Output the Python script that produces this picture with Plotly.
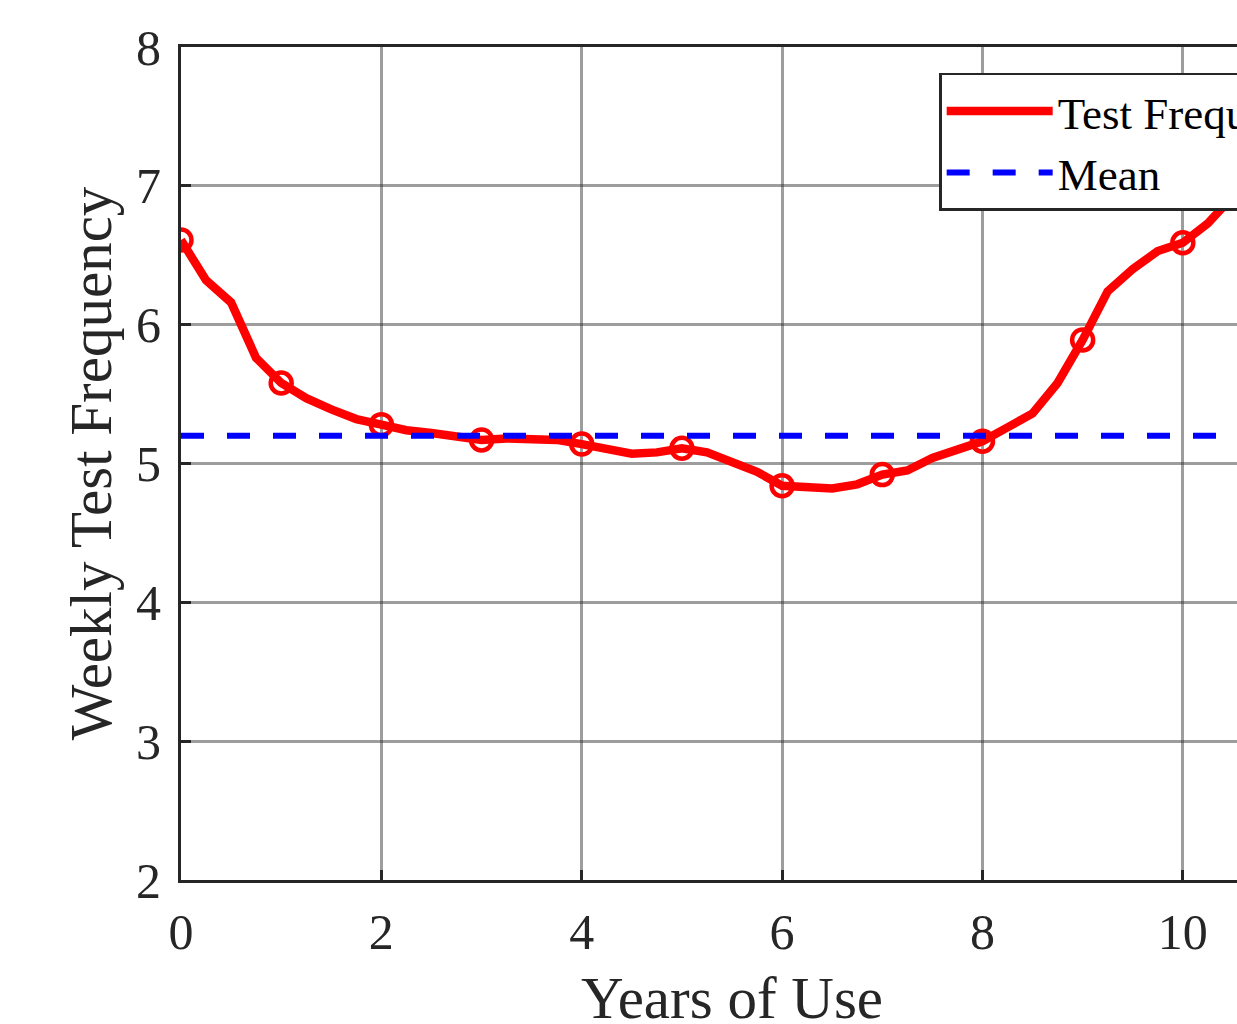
import plotly.graph_objects as go

years = [0, 0.25, 0.5, 0.75, 1, 1.25, 1.5, 1.75, 2, 2.25, 2.5, 2.75, 3, 3.25, 3.5, 3.75,
         4, 4.25, 4.5, 4.75, 5, 5.25, 5.5, 5.75, 6, 6.25, 6.5, 6.75, 7, 7.25, 7.5, 7.75,
         8, 8.25, 8.5, 8.75, 9, 9.25, 9.5, 9.75, 10, 10.25, 10.5, 10.75]
freq = [6.61, 6.32, 6.16, 5.76, 5.58, 5.47, 5.39, 5.32, 5.28, 5.24, 5.22, 5.19, 5.17, 5.18, 5.18, 5.17,
        5.14, 5.10, 5.07, 5.08, 5.11, 5.08, 5.01, 4.94, 4.84, 4.83, 4.82, 4.85, 4.92, 4.95, 5.04, 5.10,
        5.16, 5.26, 5.36, 5.58, 5.89, 6.24, 6.40, 6.53, 6.59, 6.73, 6.93, 7.12]
marker_years = [0, 1, 2, 3, 4, 5, 6, 7, 8, 9, 10]
mean_value = 5.2
mean_x = [0, 11]

x_ticks = [0, 2, 4, 6, 8, 10]
y_ticks = [2, 3, 4, 5, 6, 7, 8]

FONT = "Liberation Serif"
marker_freq = [freq[years.index(m)] for m in marker_years]

fig = go.Figure()
fig.add_trace(go.Scatter(
    x=years, y=freq, mode="lines", name="Test Frequency",
    line=dict(color="#ff0000", width=8.5)))
fig.add_trace(go.Scatter(
    x=marker_years, y=marker_freq, mode="markers", showlegend=False,
    marker=dict(symbol="circle-open", size=21, color="#ff0000", line=dict(width=4.5, color="#ff0000"))))
fig.add_trace(go.Scatter(
    x=mean_x, y=[mean_value, mean_value], mode="lines", name="Mean",
    line=dict(color="#0000ff", width=6, dash="23px,23px")))

axis_common = dict(
    showgrid=True, gridcolor="rgba(38,38,38,0.45)", gridwidth=2.5,
    showline=True, linecolor="#262626", linewidth=3, mirror=True,
    ticks="inside", ticklen=10, tickwidth=3, tickcolor="#262626",
    tickfont=dict(family=FONT, size=50, color="#262626"),
    zeroline=False, automargin=False,
)

fig.update_layout(
    width=1600, height=1034,
    margin=dict(l=181, r=317, t=47, b=154),
    paper_bgcolor="white", plot_bgcolor="white",
    showlegend=True,
    legend=dict(x=0.688, y=0.969, xanchor="left", yanchor="top",
                bgcolor="white", bordercolor="#262626", borderwidth=2.5,
                font=dict(family=FONT, size=45, color="black"),
                itemwidth=106, tracegroupgap=0),
    xaxis=dict(range=[0, 11], tickvals=x_ticks, ticklabelstandoff=6,
               title=dict(text="Years of Use", font=dict(family=FONT, size=59, color="#262626"), standoff=18),
               **axis_common),
    yaxis=dict(range=[2, 8], tickvals=y_ticks, ticklabelstandoff=7,
               title=dict(text="Weekly Test Frequency", font=dict(family=FONT, size=59, color="#262626"), standoff=6),
               **axis_common),
)

fig.write_html("out.html", config={"displayModeBar": False},
               post_script="document.body.style.margin='0';document.body.style.overflow='hidden';document.documentElement.style.overflow='hidden';")
